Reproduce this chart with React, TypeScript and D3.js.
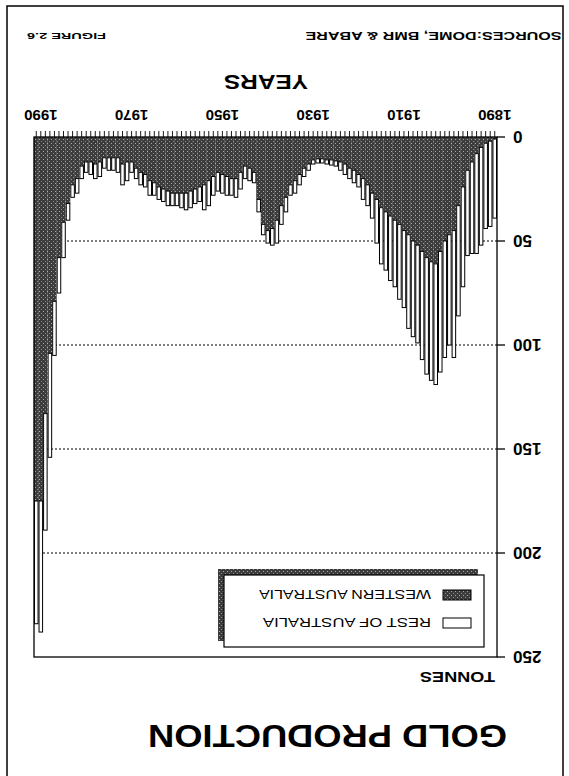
import * as d3 from "d3";

// categories: one bar per year
const years = d3.range(1890, 1992);

// tonnes
const westernAustralia = [
  1, 2, 3, 5, 8, 12, 16, 24, 33, 45,
  47, 50, 55, 61, 60, 58, 55, 52, 50, 47,
  45, 42, 40, 38, 36, 34, 30, 27, 23, 20,
  18, 16, 15, 13, 12, 11.5, 11, 11, 10.5, 10.5,
  11, 13, 15, 18, 21, 23, 29, 33, 40, 44,
  45, 42, 30, 17, 15, 14, 17, 20, 20, 19,
  18, 17, 19, 21, 23, 24, 25, 26, 27, 27,
  27, 27, 26, 25, 24, 22, 21, 18, 17, 15,
  12, 12, 13, 10, 10, 10, 10, 12, 13, 12,
  12, 14, 20, 23, 32, 41, 58, 79, 104, 133,
  175, 175,
];

const restOfAustralia = [
  38, 41, 41, 47, 48, 44, 41, 48, 53, 61,
  53, 56, 58, 58, 57, 56, 52, 47, 46, 45,
  37, 36, 32, 31, 28, 27, 21, 12, 10, 10,
  6, 6, 5, 5, 4, 2.5, 2.5, 2, 2, 2,
  2, 3, 4, 5, 6, 5, 7, 9, 11, 8,
  6, 5, 6, 5, 6, 6, 8, 9, 8, 9,
  9, 9, 9, 12, 12, 7, 7, 8, 8, 7,
  6, 6, 7, 6, 6, 6, 7, 6, 6, 5,
  5, 9, 10, 7, 6, 6, 5, 7, 7, 6,
  5, 6, 7, 6, 8, 17, 17, 26, 50, 56,
  63, 59,
];

const valueTicks = [0, 50, 100, 150, 200, 250];
const gridTicks = [50, 100, 150, 200];
const yearLabels = [1890, 1910, 1930, 1950, 1970, 1990];

const W = 569;
const H = 776;
const font = "'Liberation Sans', Arial, sans-serif";

export default function App() {
  const plot = { left: 72, right: 535, top: 119, bottom: 639 };

  const x = d3
    .scaleBand<number>()
    .domain(years)
    .range([plot.left, plot.right])
    .padding(0);
  const y = d3.scaleLinear().domain([0, 250]).range([plot.bottom, plot.top]);
  const bw = x.bandwidth();

  return (
    <svg
      width={W}
      height={H}
      style={{ position: "absolute", left: 0, top: 0, background: "#fff" }}
    >
      <defs>
        <pattern id="stipple" width="4" height="4" patternUnits="userSpaceOnUse">
          <rect width="4" height="4" fill="#3c3c3c" />
          <rect x="1" y="0" width="1" height="1" fill="#a8a8a8" />
          <rect x="3" y="2" width="1" height="1" fill="#8a8a8a" />
        </pattern>
      </defs>
      {/* the scanned page is upside down */}
      <g transform={`rotate(180 ${W / 2} ${H / 2})`}>
        <rect x={6} y={-10} width={556} height={780} fill="#fff" stroke="#000" strokeWidth={1.5} />

        <text
          x={62}
          y={51}
          fontFamily={font}
          fontWeight="bold"
          fontSize={32}
          textLength={359}
          lengthAdjust="spacingAndGlyphs"
        >
          GOLD PRODUCTION
        </text>

        <text
          x={74}
          y={104}
          fontFamily={font}
          fontWeight="bold"
          fontSize={14}
          textLength={75}
          lengthAdjust="spacingAndGlyphs"
        >
          TONNES
        </text>

        {/* gridlines */}
        {gridTicks.map((t) => (
          <line
            key={t}
            x1={plot.left}
            x2={plot.right}
            y1={y(t)}
            y2={y(t)}
            stroke="#000"
            strokeWidth={1}
            strokeDasharray="2 2"
          />
        ))}

        {/* stacked bars */}
        {years.map((yr, i) => {
          const wa = westernAustralia[i];
          const total = wa + restOfAustralia[i];
          const bx = x(yr) as number;
          return (
            <g key={yr}>
              <rect
                x={bx}
                width={bw + 0.2}
                y={y(wa)}
                height={y(0) - y(wa)}
                fill="url(#stipple)"
              />
              <rect
                x={bx + 0.5}
                width={bw - 1}
                y={y(total)}
                height={y(wa) - y(total)}
                fill="#fff"
                stroke="#000"
                strokeWidth={1}
              />
            </g>
          );
        })}

        {/* plot frame */}
        <rect
          x={plot.left}
          y={plot.top}
          width={plot.right - plot.left}
          height={plot.bottom - plot.top}
          fill="none"
          stroke="#000"
          strokeWidth={1.3}
        />

        {/* value axis */}
        {valueTicks.map((t) => (
          <g key={t}>
            <line x1={plot.left - 8} x2={plot.left} y1={y(t)} y2={y(t)} stroke="#000" strokeWidth={1.3} />
            <text
              x={56}
              y={y(t)}
              dy="0.36em"
              textAnchor="end"
              fontFamily={font}
              fontWeight="bold"
              fontSize={17}
            >
              {t}
            </text>
          </g>
        ))}

        {/* year ticks */}
        {years.map((yr) => (
          <line
            key={yr}
            x1={(x(yr) as number) + bw / 2}
            x2={(x(yr) as number) + bw / 2}
            y1={plot.bottom}
            y2={plot.bottom + 6}
            stroke="#000"
            strokeWidth={0.9}
          />
        ))}
        {yearLabels.map((yr) => (
          <text
            key={yr}
            x={(x(yr) as number) + bw / 2}
            y={666}
            textAnchor="middle"
            fontFamily={font}
            fontWeight="bold"
            fontSize={15}
          >
            {yr}
          </text>
        ))}

        <text
          x={261}
          y={701}
          fontFamily={font}
          fontWeight="bold"
          fontSize={21}
          textLength={84}
          lengthAdjust="spacingAndGlyphs"
        >
          YEARS
        </text>

        <text
          x={7.5}
          y={744}
          fontFamily={font}
          fontWeight="bold"
          fontSize={11.5}
          textLength={256}
          lengthAdjust="spacingAndGlyphs"
        >
          SOURCES:DOME, BMR &amp; ABARE
        </text>
        <text
          x={463}
          y={743}
          fontFamily={font}
          fontWeight="bold"
          fontSize={9.5}
          textLength={79}
          lengthAdjust="spacingAndGlyphs"
        >
          FIGURE 2.6
        </text>

        {/* legend */}
        <rect x={91} y={135} width={260} height={72} fill="url(#stipple)" />
        <rect x={85} y={129} width={260} height={72} fill="#fff" stroke="#000" strokeWidth={1.2} />
        <rect x={98} y={148} width={28} height={10} fill="#fff" stroke="#000" strokeWidth={1} />
        <text
          x={138}
          y={158}
          fontFamily={font}
          fontSize={13}
          textLength={168}
          lengthAdjust="spacingAndGlyphs"
        >
          REST OF AUSTRALIA
        </text>
        <rect x={98} y={176} width={28} height={10} fill="url(#stipple)" stroke="#000" strokeWidth={1} />
        <text
          x={138}
          y={186}
          fontFamily={font}
          fontSize={13}
          textLength={172}
          lengthAdjust="spacingAndGlyphs"
        >
          WESTERN AUSTRALIA
        </text>
      </g>
    </svg>
  );
}
